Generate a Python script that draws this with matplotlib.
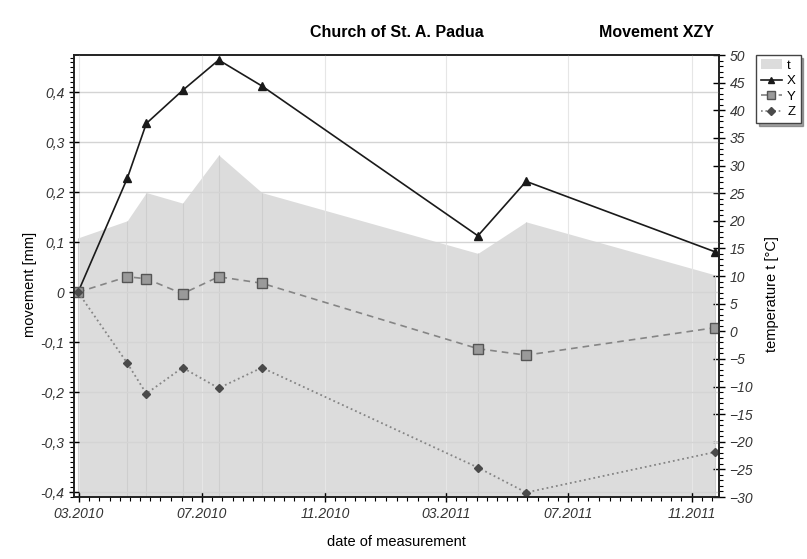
import numpy as np
import matplotlib
matplotlib.use('Agg')
import matplotlib.pyplot as plt
import matplotlib.dates as mdates
from matplotlib.ticker import MultipleLocator, FuncFormatter
from matplotlib.patches import Patch
from matplotlib.lines import Line2D
import pandas as pd

plt.rcParams['font.family'] = ['Liberation Sans', 'DejaVu Sans']

# measurement dates and readings
dates = pd.to_datetime(['2010-02-28', '2010-04-18', '2010-05-07', '2010-06-12',
                        '2010-07-18', '2010-08-30', '2011-04-02', '2011-05-20',
                        '2011-11-24'])
mov_x = [0.0, 0.228, 0.338, 0.404, 0.465, 0.413, 0.113, 0.222, 0.081]
mov_y = [0.0, 0.031, 0.027, -0.003, 0.031, 0.018, -0.113, -0.126, -0.071]
mov_z = [0.0, -0.142, -0.203, -0.151, -0.192, -0.151, -0.351, -0.401, -0.320]
temp = [16.9, 20.0, 25.1, 23.2, 31.9, 25.1, 14.1, 19.8, 10.2]

fig = plt.figure(figsize=(8.07, 5.59), dpi=100)
ax = fig.add_axes([0.0917, 0.1109, 0.7993, 0.7907])
ax2 = ax.twinx()

# temperature area behind the movement lines
ax.set_zorder(ax2.get_zorder() + 1)
ax.patch.set_visible(False)
ax2.fill_between(dates, -30, temp, color='#dcdcdc', lw=0)
ax2.vlines(dates, -30, temp, color='#cecece', lw=0.8)
ax2.set_ylim(-30, 50)

ax.plot(dates, mov_x, '-', color='#1a1a1a', lw=1.2, marker='^', ms=6,
        mfc='#1a1a1a', mec='#1a1a1a')
ax.plot(dates, mov_y, '--', color='#858585', lw=1.2, marker='s', ms=6.5,
        mfc='#9a9a9a', mec='#555555', dashes=(4, 3))
ax.plot(dates, mov_z, ':', color='#858585', lw=1.3, marker='D', ms=4.5,
        mfc='#4a4a4a', mec='#4a4a4a')

ax.set_ylim(-0.41, 0.475)
ax.set_xlim(pd.Timestamp('2010-02-24'), pd.Timestamp('2011-11-28'))

ax.yaxis.set_major_locator(MultipleLocator(0.1))
ax.yaxis.set_minor_locator(MultipleLocator(0.01))
ax.yaxis.set_major_formatter(FuncFormatter(
    lambda v, p: '0' if abs(v) < 1e-9 else ('%.1f' % v).replace('.', ',')))
ax2.yaxis.set_major_locator(MultipleLocator(5))
ax2.yaxis.set_minor_locator(MultipleLocator(1))

ax.xaxis.set_major_locator(mdates.MonthLocator(bymonth=[3, 7, 11]))
ax.xaxis.set_minor_locator(mdates.DayLocator(bymonthday=[1, 11, 21]))
ax.xaxis.set_major_formatter(mdates.DateFormatter('%m.%Y'))

ax.grid(True, axis='y', color='#d4d4d4', lw=1.0)
ax.grid(True, axis='x', color='#e6e6e6', lw=0.8)
ax.set_axisbelow(True)

for a in (ax, ax2):
    for s in a.spines.values():
        s.set_color('#222222')
        s.set_linewidth(1.2)
ax.tick_params(axis='both', which='major', direction='inout', length=7,
               width=1, labelsize=10, labelcolor='#333333')
ax.tick_params(axis='both', which='minor', direction='out', length=3, width=0.8)
ax2.tick_params(axis='y', which='major', direction='inout', length=8,
                width=1, labelsize=10, labelcolor='#333333')
ax2.tick_params(axis='y', which='minor', direction='out', length=3, width=0.8)
for lab in ax.get_xticklabels() + ax.get_yticklabels() + ax2.get_yticklabels():
    lab.set_style('italic')

ax.set_ylabel('movement [mm]', fontsize=10.5, labelpad=14)
ax.yaxis.set_label_coords(-0.058, 0.48)
ax2.set_ylabel('temperature t [°C]', fontsize=10.5)
ax2.yaxis.set_label_coords(1.072, 0.46)
ax.set_xlabel('date of measurement', fontsize=10.5, labelpad=10)

narrow = ['Liberation Sans Narrow', 'Liberation Sans', 'DejaVu Sans']
fig.text(0.492, 0.941, 'Church of St. A. Padua', ha='center', va='center',
         fontsize=11.5, fontweight='bold', family=narrow)
fig.text(0.813, 0.941, 'Movement XZY', ha='center', va='center',
         fontsize=11.5, fontweight='bold', family=narrow)

handles = [
    Patch(facecolor='#dcdcdc', edgecolor='none', label='t'),
    Line2D([], [], color='#1a1a1a', marker='^', ms=5, lw=1.2, label='X'),
    Line2D([], [], color='#808080', marker='s', ms=5.5, mfc='#9a9a9a',
           mec='#555555', ls='--', lw=1.2, label='Y'),
    Line2D([], [], color='#808080', marker='D', ms=4, mfc='#4a4a4a',
           mec='#4a4a4a', ls=':', lw=1.2, label='Z'),
]
leg = fig.legend(handles=handles, loc='upper left', bbox_to_anchor=(0.937, 0.902),
                 fontsize=9.5, frameon=True, fancybox=False, shadow=True,
                 edgecolor='#444444', handlelength=1.6, handletextpad=0.4,
                 borderpad=0.35, labelspacing=0.25, borderaxespad=0)
leg.get_frame().set_linewidth(1.0)

fig.savefig('out.png', dpi=100)
